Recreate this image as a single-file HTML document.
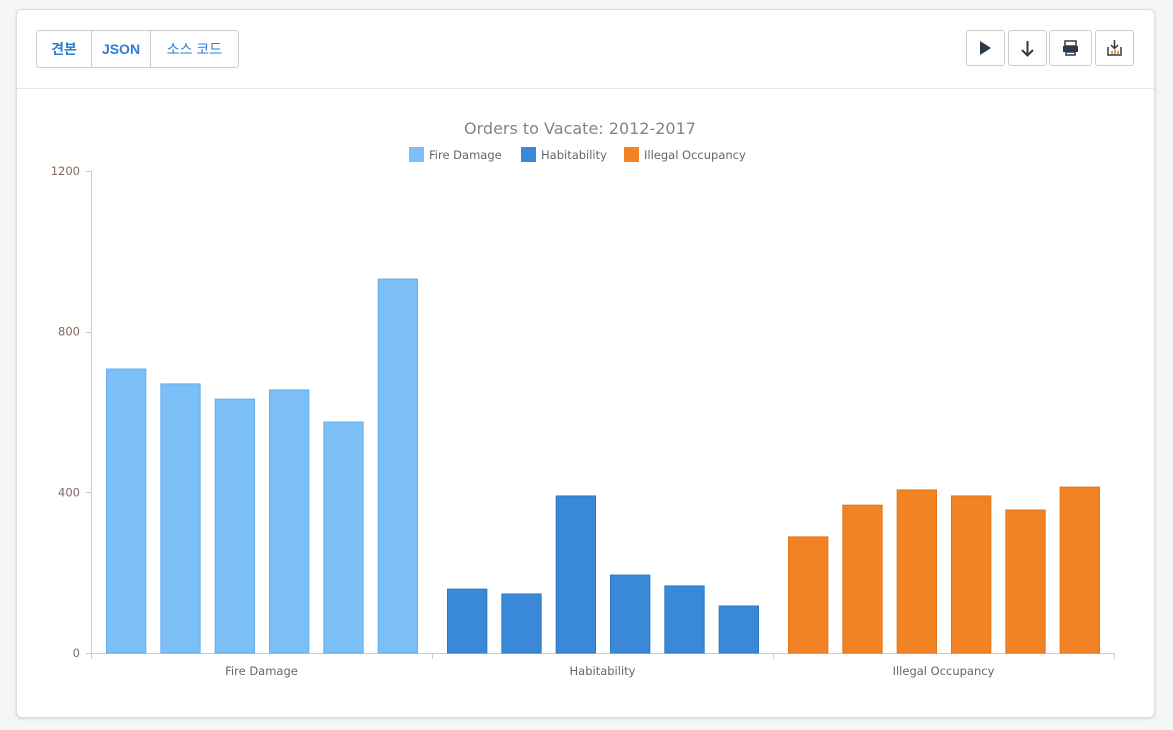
<!DOCTYPE html>
<html><head><meta charset="utf-8"><style>
body{margin:0;background:#f5f5f5;font-family:"Liberation Sans","Noto Sans CJK KR",sans-serif;}
.card{position:absolute;left:16px;top:9px;width:1137px;height:707px;background:#fff;border:1px solid #ddd;border-radius:6px;box-shadow:0 1px 3px rgba(0,0,0,.12);}
.sep{position:absolute;left:0;right:0;top:78px;border-top:1px solid #e5e5e5;}
.seg{position:absolute;top:20px;height:36px;display:flex;left:19px;border:1px solid #ccc;border-radius:3px;}
.seg div{line-height:36px;font-size:14px;font-weight:bold;color:#2a7fd4;border-right:1px solid #ccc;text-align:center;}
.seg div:last-child{border-right:none}
.btn{position:absolute;top:20px;height:34px;border:1px solid #ccc;border-radius:3px;background:#fff;}
</style></head><body>
<div class="card">
<div class="seg">
<div style="width:54px">견본</div>
<div style="width:58px">JSON</div>
<div style="width:87px;font-weight:normal">소스 코드</div>
</div>
<div class="btn" style="left:949px;width:37px"><svg width="37" height="34"><path d="M13 10L24 17L13 24Z" fill="#2d3b48"/></svg></div>
<div class="btn" style="left:991px;width:37px"><svg width="37" height="34"><path d="M18.5 10V24M13 19L18.5 24.5L24 19" stroke="#2d3b48" stroke-width="2" fill="none"/></svg></div>
<div class="btn" style="left:1032px;width:41px"><svg width="41" height="34"><rect x="15" y="10" width="11" height="5" fill="none" stroke="#2d3b48" stroke-width="1.5"/><rect x="13" y="15" width="15" height="6" fill="#2d3b48"/><rect x="16" y="21" width="9" height="3" fill="none" stroke="#2d3b48" stroke-width="1.5"/></svg></div>
<div class="btn" style="left:1078px;width:37px"><svg width="37" height="34"><path d="M12 16V24H25V16" stroke="#2d3b48" stroke-width="1.5" fill="none"/><path d="M18.5 9V17M15 14L18.5 17.5L22 14" stroke="#2d3b48" stroke-width="1.5" fill="none"/><rect x="15" y="20" width="2" height="3" fill="#e8a33a"/><rect x="18" y="19" width="2" height="4" fill="#e8a33a"/><rect x="21" y="20" width="2" height="3" fill="#e8a33a"/></svg></div>
<div class="sep"></div>
</div>
<svg id="chart" width="1173" height="730" style="position:absolute;left:0;top:0" font-family="DejaVu Sans, sans-serif">
<text x="580" y="134" text-anchor="middle" font-size="16" fill="#7c868e">Orders to Vacate: 2012-2017</text>
<g id="legend"></g><g id="axes"></g><g id="bars"></g>
</svg>
<script>
const categories=["Fire Damage","Habitability","Illegal Occupancy"];
const fireDamage=[707,670,632,655,575,931];
const habitability=[159,147,391,194,167,117];
const illegalOccupancy=[289,368,406,391,356,413];
const yTicks=[0,400,800,1200];
const series=[fireDamage,habitability,illegalOccupancy];
const colors=["#7bbff6","#3a89d8","#f28325"];
const strokes=["#62aef0","#2a79c8","#e5731a"];
const NS="http://www.w3.org/2000/svg";
const x0=91,x1=1114,y0=653,yTop=171,yMax=1200;
const y=v=>y0-(v/yMax)*(y0-yTop);
const gw=(x1-x0)/categories.length;
function mk(t,a,p){const e=document.createElementNS(NS,t);for(const k in a)e.setAttribute(k,a[k]);p.appendChild(e);return e;}
const ax=document.getElementById('axes');
mk('line',{x1:x0+.5,y1:yTop,x2:x0+.5,y2:y0,stroke:'#ccc'},ax);
mk('line',{x1:x0,y1:y0+.5,x2:x1,y2:y0+.5,stroke:'#ccc'},ax);
yTicks.forEach(t=>{mk('line',{x1:86,x2:x0,y1:Math.round(y(t))+.5,y2:Math.round(y(t))+.5,stroke:'#ccc'},ax);
const tx=mk('text',{x:80,y:y(t)+4,'text-anchor':'end','font-size':11.5,fill:'#7c6c62'},ax);tx.textContent=t;

});
categories.forEach((c,i)=>{const gx=x0+gw*i;
for(let k=0;k<=1;k++){mk('line',{x1:Math.round(gx+gw*k)+.5,x2:Math.round(gx+gw*k)+.5,y1:y0,y2:y0+6,stroke:'#ccc'},ax);}
const tx=mk('text',{x:gx+gw/2,y:675,'text-anchor':'middle','font-size':11.5,fill:'#666'},ax);tx.textContent=c;

});
const bg=document.getElementById('bars');
const pad=15,step=(gw-2*pad+15)/6,bw=step-15;
series.forEach((s,i)=>{s.forEach((v,j)=>{const bx=x0+gw*i+pad+step*j;
const r=mk('rect',{x:bx+.5,y:y(v),width:bw,height:y0-y(v),fill:colors[i],stroke:strokes[i]},bg);

});});
const lg=document.getElementById('legend');
const lx=[409,521,624];
categories.forEach((c,i)=>{const g=mk('g',{},lg);


mk('rect',{x:lx[i],y:147,width:15,height:15,fill:colors[i]},g);
const t=mk('text',{x:lx[i]+20,y:159,'font-size':11.5,fill:'#666'},g);t.textContent=c;});
</script>
</body></html>
